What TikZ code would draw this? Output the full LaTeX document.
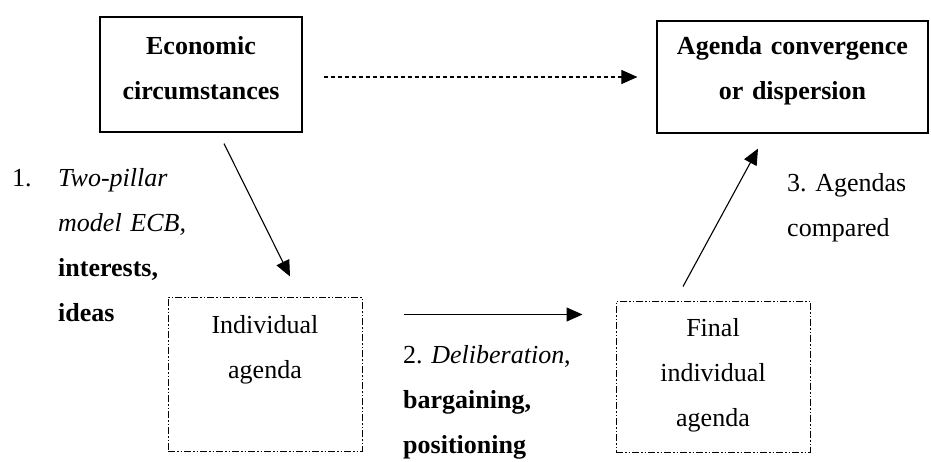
\documentclass[tikz,border=0pt]{standalone}
\usepackage{fontspec}
\setmainfont{Liberation Serif}
\usepackage{xcolor}
\usepackage{tikz}
\usetikzlibrary{arrows.meta}
\definecolor{inkblack}{RGB}{0, 0, 0}

\begin{document}
\frenchspacing
\begin{tikzpicture}[x=1pt, y=-1pt,
    every node/.style={font=\fontsize{26pt}{45pt}\selectfont},
    solidbox/.style={draw=inkblack, line width=1.2pt, inner sep=0pt, align=center, text height=18pt},
    agendabox/.style={draw=inkblack, line width=1pt, inner sep=0pt, align=center, text height=18pt,
        dash pattern=on 7pt off 2pt on 1.5pt off 2pt on 1.5pt off 2pt},
    note/.style={inner sep=0pt, align=left, anchor=base west},
    flow/.style={draw=inkblack, line width=1.1pt, -{Triangle[length=16pt, width=14pt]}},
    dashflow/.style={flow, dash pattern=on 4pt off 3pt}]
    \useasboundingbox (0,0) rectangle (931,462);

    % top row
    \node[solidbox, minimum width=202pt, minimum height=115pt, text width=190pt, text depth=57pt] (econ) at (201,74.5) {
        \textbf{Economic}\\
        \textbf{circumstances}
    };
    \node[solidbox, minimum width=271pt, minimum height=112pt, text width=255pt, text depth=62pt] (outcome) at (792.5,77) {
        \textbf{Agenda convergence}\\
        \textbf{or dispersion}
    };

    % bottom row
    \node[agendabox, minimum width=194pt, minimum height=154pt, text width=180pt, text depth=100pt] (indiv) at (265,374) {
        Individual\\
        agenda
    };
    \node[agendabox, minimum width=194pt, minimum height=151pt, text width=180pt, text depth=99pt] (final) at (713,376.5) {
        Final\\
        individual\\
        agenda
    };

    % step labels
    \node[note, text width=130pt] (pillars) at (58,187) {
        \llap{\makebox[46pt][l]{1.}}\textit{Two-pillar}\\
        \textit{model ECB,}\\
        \textbf{interests,}\\
        \textbf{ideas}
    };
    \node[note, text width=190pt] (bargain) at (403,363) {
        2. \textit{Deliberation},\\
        \textbf{bargaining,}\\
        \textbf{positioning}
    };
    \node[note, text width=140pt] (compare) at (787,192) {
        3. Agendas\\
        compared
    };

    % connectors
    \draw[dashflow, shorten <=21pt, shorten >=19pt] (econ.east |- outcome.west) -- (outcome.west);
    \draw[flow] ([xshift=23pt, yshift=-11pt]econ.south) -- ([xshift=25pt, yshift=20pt]indiv.north);
    \draw[flow] ([xshift=41pt, yshift=-18pt]indiv.north east) -- ([xshift=-33pt, yshift=-14pt]final.north west);
    \draw[flow] ([xshift=-30pt, yshift=14pt]final.north) -- ([xshift=-34.5pt, yshift=-15pt]outcome.south);
\end{tikzpicture}
\end{document}
